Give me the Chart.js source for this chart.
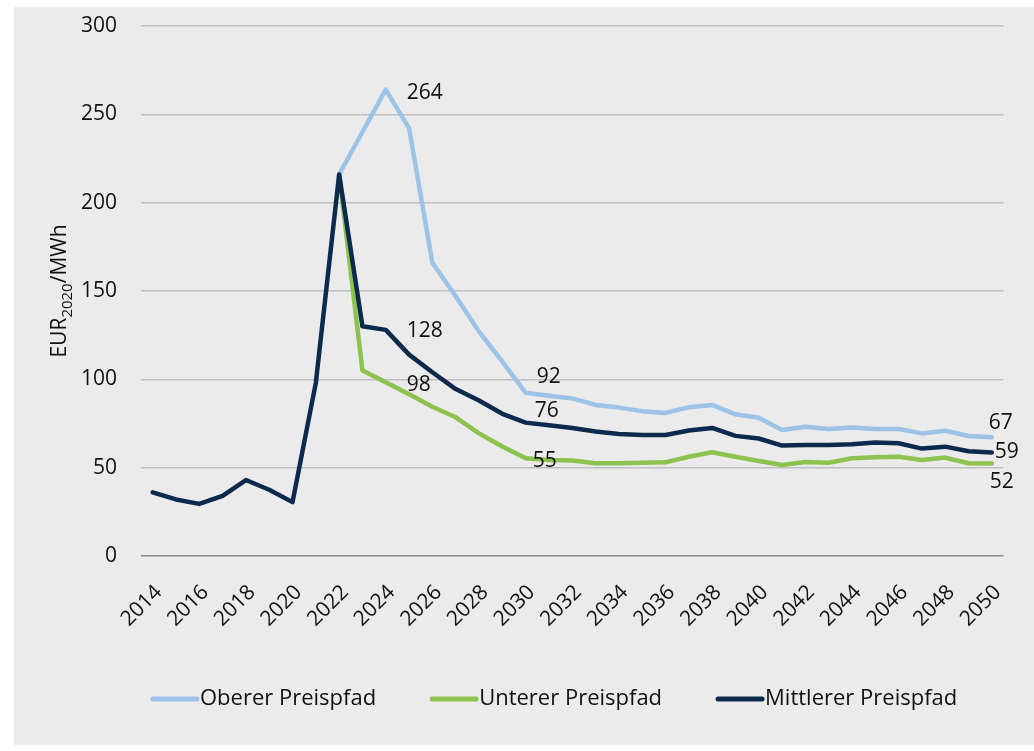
<!DOCTYPE html>
<html>
<head>
<meta charset="utf-8">
<script src="https://cdn.jsdelivr.net/npm/chart.js@4.4.0/dist/chart.umd.min.js"></script>
<style>
  html, body { margin: 0; padding: 0; background: #fff; }
  #wrap { width: 1034px; height: 751px; }
</style>
</head>
<body>
<div id="wrap"><canvas id="priceChart" width="1034" height="751"></canvas></div>
<script>
const years = ['2014', '2015', '2016', '2017', '2018', '2019', '2020', '2021', '2022', '2023',
    '2024', '2025', '2026', '2027', '2028', '2029', '2030', '2031', '2032', '2033',
    '2034', '2035', '2036', '2037', '2038', '2039', '2040', '2041', '2042', '2043',
    '2044', '2045', '2046', '2047', '2048', '2049', '2050'];

const oberer = [null, null, null, null, null, null, null, null,
    216, 240, 264, 242, 166, 147, 127, 110, 92.4, 90.7, 89.2, 85.5,
    84, 82, 81, 84.2, 85.5, 80.2, 78.3, 71.3, 73.2, 71.9,
    72.8, 71.9, 71.9, 69.4, 70.9, 67.9, 67.2];

const unterer = [null, null, null, null, null, null, null, null,
    216, 105, 98.4, 91.5, 84.5, 78.5, 69.4, 62, 55.3, 54.3, 54, 52.5,
    52.5, 52.8, 53, 56.2, 58.7, 56.2, 53.8, 51.5, 53.2, 52.8,
    55.3, 55.9, 56.2, 54.3, 55.7, 52.5, 52.4];

const mittlerer = [36, 32, 29.5, 34, 43, 37.5, 30.5, 98, 216, 130,
    128, 114, 104, 94.5, 88, 80.5, 75.5, 74, 72.5, 70.5,
    69, 68.5, 68.5, 71, 72.5, 68, 66.5, 62.5, 62.8, 62.8,
    63.3, 64.3, 63.8, 60.8, 61.9, 59.3, 58.6];

const seriesNames = ['Oberer Preispfad', 'Unterer Preispfad', 'Mittlerer Preispfad'];
const seriesColors = ['#9DC3E6', '#8DC24F', '#0B2A4E'];

// which points get a value label (dataset index, year)
const labelPoints = [
    { ds: 0, year: '2024', dx: 21, dy: 3, align: 'left' },
    { ds: 2, year: '2024', dx: 21, dy: 1, align: 'left' },
    { ds: 1, year: '2024', dx: 21, dy: 3, align: 'left' },
    { ds: 0, year: '2030', dx: 11, dy: -16, align: 'left' },
    { ds: 2, year: '2030', dx: 9, dy: -12, align: 'left' },
    { ds: 1, year: '2030', dx: 7, dy: 3, align: 'left' },
    { ds: 0, year: '2050', dx: 9, dy: -14, align: 'center' },
    { ds: 2, year: '2050', dx: 3, dy: 0, align: 'left' },
    { ds: 1, year: '2050', dx: -2, dy: 19, align: 'left' }
];

const FONT = "'Open Sans', 'Noto Sans', sans-serif";

const backgroundPlugin = {
    id: 'bgPanel',
    beforeDraw(chart) {
        const ctx = chart.ctx;
        ctx.save();
        ctx.fillStyle = '#fff';
        ctx.fillRect(0, 0, chart.width, chart.height);
        ctx.fillStyle = '#EBEBEB';
        ctx.fillRect(14, 7, chart.width - 14, chart.height - 13);
        ctx.restore();
    }
};

const decorPlugin = {
    id: 'decor',
    afterDatasetsDraw(chart) {
        const ctx = chart.ctx;
        ctx.save();
        ctx.fillStyle = '#111';
        ctx.font = '21px ' + FONT;
        ctx.textBaseline = 'middle';
        labelPoints.forEach(lp => {
            const idx = years.indexOf(lp.year);
            const pt = chart.getDatasetMeta(lp.ds).data[idx];
            const val = chart.data.datasets[lp.ds].data[idx];
            ctx.textAlign = lp.align;
            ctx.fillText(String(Math.round(val)), pt.x + lp.dx, pt.y + lp.dy);
        });
        ctx.restore();
    },
    afterDraw(chart) {
        const ctx = chart.ctx;
        ctx.save();
        // y axis title with subscript
        ctx.translate(59, 291);
        ctx.rotate(-Math.PI / 2);
        ctx.fillStyle = '#111';
        ctx.textBaseline = 'alphabetic';
        const big = '21px ' + FONT;
        const small = '15px ' + FONT;
        ctx.font = big;
        const w1 = ctx.measureText('EUR').width;
        const w3 = ctx.measureText('/MWh').width;
        ctx.font = small;
        const w2 = ctx.measureText('2020').width;
        let x = -(w1 + w2 + w3) / 2;
        ctx.font = big;
        ctx.textAlign = 'left';
        ctx.fillText('EUR', x, 7);
        x += w1;
        ctx.font = small;
        ctx.fillText('2020', x, 13);
        x += w2;
        ctx.font = big;
        ctx.fillText('/MWh', x, 7);
        ctx.restore();

        // legend
        ctx.save();
        ctx.font = '22px ' + FONT;
        ctx.textBaseline = 'middle';
        ctx.textAlign = 'left';
        let lx = 153;
        const ly = 699;
        chart.data.datasets.forEach((ds, i) => {
            ctx.strokeStyle = ds.borderColor;
            ctx.lineWidth = 5;
            ctx.lineCap = 'round';
            ctx.beginPath();
            ctx.moveTo(lx, ly);
            ctx.lineTo(lx + 44, ly);
            ctx.stroke();
            ctx.fillStyle = '#111';
            ctx.fillText(ds.label, lx + 47, ly);
            lx += 47 + ctx.measureText(ds.label).width + 56;
        });
        ctx.restore();
    }
};

function makeDataset(i, values, order) {
    return {
        label: seriesNames[i],
        data: values,
        borderColor: seriesColors[i],
        backgroundColor: seriesColors[i],
        borderWidth: 4.5,
        pointRadius: 0,
        tension: 0,
        borderJoinStyle: 'round',
        borderCapStyle: 'round',
        spanGaps: false,
        order: order
    };
}

const ctxPrice = document.getElementById('priceChart').getContext('2d');
const priceChart = new Chart(ctxPrice, {
    type: 'line',
    data: {
        labels: years,
        datasets: [
            makeDataset(0, oberer, 3),
            makeDataset(1, unterer, 2),
            makeDataset(2, mittlerer, 1)
        ]
    },
    options: {
        responsive: false,
        animation: false,
        events: [],
        layout: {
            padding: { top: 26, left: 14, right: 24, bottom: 0 }
        },
        scales: {
            x: {
                type: 'category',
                offset: true,
                grid: { display: false, drawTicks: false },
                border: { display: false },
                afterFit: (s) => { s.height = 195; },
                ticks: {
                    autoSkip: false,
                    minRotation: 45,
                    maxRotation: 45,
                    padding: 24,
                    labelOffset: 6,
                    color: '#111',
                    font: { family: FONT, size: 21 },
                    callback: function (value, index) {
                        return index % 2 === 0 ? this.getLabelForValue(value) : '';
                    }
                }
            },
            y: {
                min: 0,
                max: 300,
                afterFit: (s) => {
                    s.width = 127;
                    s.paddingTop = 10;
                    s.paddingBottom = 10;
                },
                border: { display: false },
                grid: {
                    drawTicks: false,
                    lineWidth: 1.5,
                    color: (c) => c.tick && c.tick.value === 0 ? '#8C8C8C' : '#BDBFC1'
                },
                ticks: {
                    stepSize: 50,
                    padding: 24,
                    color: '#111',
                    font: { family: FONT, size: 21 }
                }
            }
        },
        plugins: {
            legend: { display: false },
            tooltip: { enabled: false }
        }
    },
    plugins: [backgroundPlugin, decorPlugin]
});
</script>
</body>
</html>
